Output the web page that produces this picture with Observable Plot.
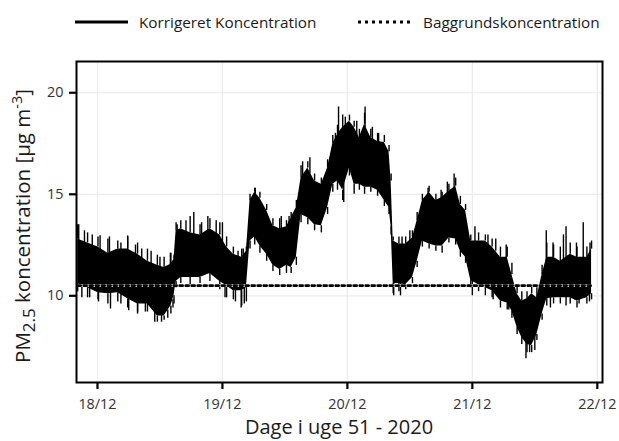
<!DOCTYPE html>
<html><head><meta charset="utf-8">
<script src="https://cdn.jsdelivr.net/npm/d3@7"></script>
<script src="https://cdn.jsdelivr.net/npm/@observablehq/plot@0.6"></script>
<style>
body{margin:0;background:#fff;font-family:"Open Sans",sans-serif;}
#legend{height:40px;position:relative;font-size:15.3px;color:#1a1a1a;width:619px}
#legend .item{position:absolute;top:11px;height:22px;display:flex;align-items:center;white-space:nowrap}
#legend svg{display:block;margin-right:11px}
#chart svg{display:block;font-family:"Open Sans",sans-serif;}
</style></head><body>
<div id="legend"></div>
<div id="chart"></div>
<script>
// Time axis: hours since 18/12/2020 00:00
const bandHours = [-3.8,-1.9,0.1,2.0,3.9,5.8,7.7,9.6,11.5,12.8,14.1,14.7,15.1,16.0,17.8,19.7,21.6,23.5,24.8,26.1,27.7,28.6,29.3,30.2,31.2,32.5,33.7,35.0,36.3,37.2,38.2,39.1,40.4,41.7,43.0,44.2,45.2,46.1,47.1,48.4,49.3,50.3,51.3,52.5,53.8,55.1,56.0,56.4,56.8,57.9,59.2,60.5,61.4,62.4,63.7,65.0,66.2,67.5,68.8,69.7,70.7,71.7,73.2,74.5,75.8,77.4,78.7,79.6,80.6,81.5,82.5,83.4,84.4,85.4,86.3,87.6,88.9,90.8,92.1,94.0,94.9];
const bandLow = [10.6,10.4,10.15,10.1,10.15,9.85,9.6,9.6,9.0,9.0,9.5,10.0,10.7,10.9,10.9,10.9,11.1,10.7,10.5,10.25,10.25,10.4,12.7,12.9,12.45,12.05,11.5,11.3,11.5,11.4,11.9,14.0,13.85,13.5,13.45,14.35,15.5,15.65,15.2,16.3,15.5,15.5,15.35,15.35,15.2,14.7,14.35,13.4,10.6,10.6,10.55,10.9,11.7,12.7,12.55,12.45,12.45,12.85,12.8,12.2,11.9,10.75,10.55,10.4,10.25,9.75,9.65,9.25,8.45,7.95,7.6,7.55,8.1,9.1,9.85,9.9,9.9,9.9,9.75,9.9,10.1];
const bandHigh = [12.8,12.6,12.4,12.1,12.3,12.3,12.05,11.7,11.5,11.4,11.55,11.8,13.2,13.3,13.1,13.0,13.3,13.0,12.4,12.05,11.9,12.2,14.7,15.1,14.8,14.2,13.45,13.3,13.4,13.85,14.35,15.8,16.3,15.65,15.5,16.3,17.5,17.95,18.3,18.6,18.3,17.8,18.45,17.8,17.6,17.55,17.1,15.65,12.7,12.55,12.55,12.85,13.7,14.7,15.1,14.7,14.85,15.15,15.4,14.5,14.2,12.7,12.7,12.7,12.4,11.9,11.9,11.05,10.1,9.75,9.85,10.1,9.9,11.05,11.9,11.9,11.7,12.05,11.9,11.9,12.3];
// extremes of the noise around each band sample
const peakHigh = [13.5,13.1,12.9,12.8,12.7,12.9,12.6,12.3,12.0,11.9,12.1,12.0,13.6,13.7,13.9,13.5,13.8,13.6,12.9,12.4,12.3,12.4,15.0,15.3,15.1,14.5,13.8,13.8,13.7,14.1,14.7,16.4,16.6,16.0,15.8,16.7,17.9,18.4,18.9,18.9,18.6,18.2,19.0,18.2,18.0,17.9,17.4,16.0,12.9,12.9,12.9,13.2,14.1,15.0,15.4,15.0,15.1,15.5,15.8,14.9,14.5,13.0,13.1,13.0,12.8,12.4,12.4,11.6,10.5,10.2,10.2,10.5,10.4,11.5,12.6,12.5,12.4,12.6,12.4,12.4,12.7];
const peakLow = [10.2,9.9,9.8,9.6,9.7,9.4,9.2,9.2,8.7,8.8,9.1,9.6,10.4,10.6,10.5,10.6,10.7,10.3,9.9,9.8,9.5,9.7,12.3,12.5,12.1,11.7,11.2,11.0,11.1,11.1,11.5,13.6,13.5,13.2,13.1,14.0,15.1,15.2,14.7,15.9,15.0,15.2,15.0,15.1,14.9,14.4,14.0,13.0,10.1,10.2,10.3,10.6,11.4,12.4,12.3,12.2,12.1,12.6,12.5,11.9,11.6,10.4,10.2,10.0,9.9,9.4,9.3,8.9,8.1,7.6,7.2,7.2,7.8,8.8,9.5,9.6,9.6,9.6,9.4,9.6,9.8];

const spikeHours = [-3.6,-2.5,-1.0,0.5,2.3,4.5,5.8,7.3,8.5,10.3,12.0,14.0,15.3,17.0,18.5,20.0,21.2,22.8,24.0,27.0,28.0,30.3,35.3,36.8,39.4,40.8,45.7,46.3,47.6,49.8,51.4,52.8,54.0,58.5,60.0,63.5,66.0,67.2,68.5,72.5,75.0,76.5,78.5,86.2,87.5,89.5,90.0,92.0,93.3,94.6,
  -3.0,-1.5,0.2,2.5,4.5,6.0,7.7,9.2,11.0,12.3,13.5,14.5,24.5,26.5,27.6,28.2,47.3,56.9,58.2,72.0,76.0,79.0,82.3,83.0,84.0,87.0,90.0,92.5,94.5];
const spikeBase = [12.5,12.4,12.2,12.0,11.8,12.0,12.0,11.8,11.5,11.4,11.2,11.3,13.0,12.8,12.8,12.7,13.0,12.7,12.2,11.7,11.9,14.8,13.0,13.4,15.5,16.0,17.2,17.5,18.0,17.9,18.0,17.5,17.3,12.3,12.6,14.8,14.5,14.8,15.0,12.4,12.4,12.2,11.6,11.6,11.6,11.5,11.6,11.6,11.6,11.9,
  10.8,10.6,10.4,10.4,10.4,10.1,9.9,9.9,9.4,9.3,9.3,9.8,10.7,10.5,10.5,10.6,15.6,10.9,10.8,11.0,10.5,9.8,7.9,7.9,8.3,10.1,10.1,10.0,10.2];
const spikeTip = [13.5,13.2,13.0,12.96,12.9,12.6,12.95,12.5,12.3,12.2,11.9,12.1,13.5,13.7,14.1,13.6,13.9,13.7,13.6,12.2,12.3,15.3,13.9,13.9,16.6,16.8,18.0,19.3,18.8,18.6,19.3,18.3,18.0,12.9,13.2,15.3,15.2,15.6,16.0,13.4,13.0,12.8,12.5,13.2,12.6,13.0,13.4,12.6,13.6,12.6,
  9.9,9.9,9.7,9.35,9.6,9.26,9.1,9.2,8.7,8.7,8.9,9.4,9.9,9.7,9.4,9.6,14.6,10.0,10.0,10.0,9.8,9.3,6.9,7.2,7.3,9.4,9.5,9.6,9.7];

const backgroundHours = [-3.8, 94.9];
const backgroundValues = [10.5, 10.5];

const tickLabels = ["18/12","19/12","20/12","21/12","22/12"];
const yTicks = [10, 15, 20];
const seriesNames = ["Korrigeret Koncentration", "Baggrundskoncentration"];

const t0 = new Date(2020, 11, 18, 0, 0).getTime();
const toDate = h => new Date(t0 + h * 3600e3);
const band = bandHours.map((h, i) => ({t: toDate(h), lo: bandLow[i], hi: bandHigh[i], pl: peakLow[i], ph: peakHigh[i]}));
const spikes = spikeHours.map((h, i) => ({t: toDate(h), base: spikeBase[i], tip: spikeTip[i]}));
const bg = backgroundHours.map((h, i) => ({t: toDate(h), v: backgroundValues[i]}));
const xTicks = tickLabels.map(s => { const [d, m] = s.split("/").map(Number); return new Date(2020, m - 1, d); });

// Legend
const legend = document.getElementById("legend");
legend.innerHTML = `
<div class="item" style="left:75px"><svg width="53" height="6"><line x1="0" x2="53" y1="3" y2="3" stroke="black" stroke-width="3"/></svg><span>${seriesNames[0]}</span></div>
<div class="item" style="left:358px"><svg width="56" height="6"><line x1="0" x2="56" y1="3" y2="3" stroke="black" stroke-width="3" stroke-dasharray="3,4"/></svg><span style="margin-left:-2px">${seriesNames[1]}</span></div>`;

const chart = Plot.plot({
  width: 619,
  height: 401,
  marginLeft: 76,
  marginRight: 17,
  marginTop: 21,
  marginBottom: 59,
  style: {fontFamily: "Open Sans", fontSize: "14.4px", background: "white"},
  x: {type: "time", domain: [toDate(-4.03), toDate(97.0)]},
  y: {domain: [5.73, 21.54]},
  marks: [
    Plot.gridX(xTicks, {stroke: "#ebebeb", strokeOpacity: 1, strokeWidth: 1.2}),
    Plot.gridY(yTicks, {stroke: "#ebebeb", strokeOpacity: 1, strokeWidth: 1.2}),
    Plot.areaY(band, {x: "t", y1: "lo", y2: "hi", fill: "black"}),
    Plot.ruleX(band, {x: "t", y1: "hi", y2: "ph", stroke: "black", strokeWidth: 1.4}),
    Plot.ruleX(band, {x: "t", y1: "lo", y2: "pl", stroke: "black", strokeWidth: 1.4}),
    Plot.ruleX(spikes, {x: "t", y1: "base", y2: "tip", stroke: "black", strokeWidth: 1.4}),
    Plot.lineY(bg, {x: "t", y: "v", stroke: "white", strokeWidth: 2.6}),
    Plot.lineY(bg, {x: "t", y: "v", stroke: "black", strokeWidth: 2.6, strokeDasharray: "3,3"}),
    Plot.axisX(xTicks, {tickFormat: d3.timeFormat("%d/%m"), tickSize: 7, tickPadding: 9, strokeWidth: 2.2, stroke: "black", fill: "#333", label: null, fontSize: 14.4}),
    Plot.axisY(yTicks, {tickSize: 7, tickPadding: 6, strokeWidth: 2.2, stroke: "black", fill: "#333", label: null, fontSize: 14.4}),
    Plot.frame({stroke: "black", strokeWidth: 2})
  ]
});
document.getElementById("chart").appendChild(chart);

const svg = d3.select(chart);
svg.append("text")
  .attr("x", 339).attr("y", 394)
  .attr("text-anchor", "middle")
  .attr("font-size", 20).attr("fill", "#1a1a1a")
  .text("Dage i uge 51 - 2020");
const yl = svg.append("text")
  .attr("transform", "translate(30,186) rotate(-90)")
  .attr("text-anchor", "middle")
  .attr("font-size", 20.5).attr("fill", "#1a1a1a");
yl.append("tspan").text("PM");
yl.append("tspan").attr("dy", 5).attr("font-size", 17).text("2.5");
yl.append("tspan").attr("dy", -5).text(" koncentration [µg m");
yl.append("tspan").attr("dy", -8).attr("font-size", 14.5).text("-3");
yl.append("tspan").attr("dy", 8).text("]");
</script>
</body></html>
